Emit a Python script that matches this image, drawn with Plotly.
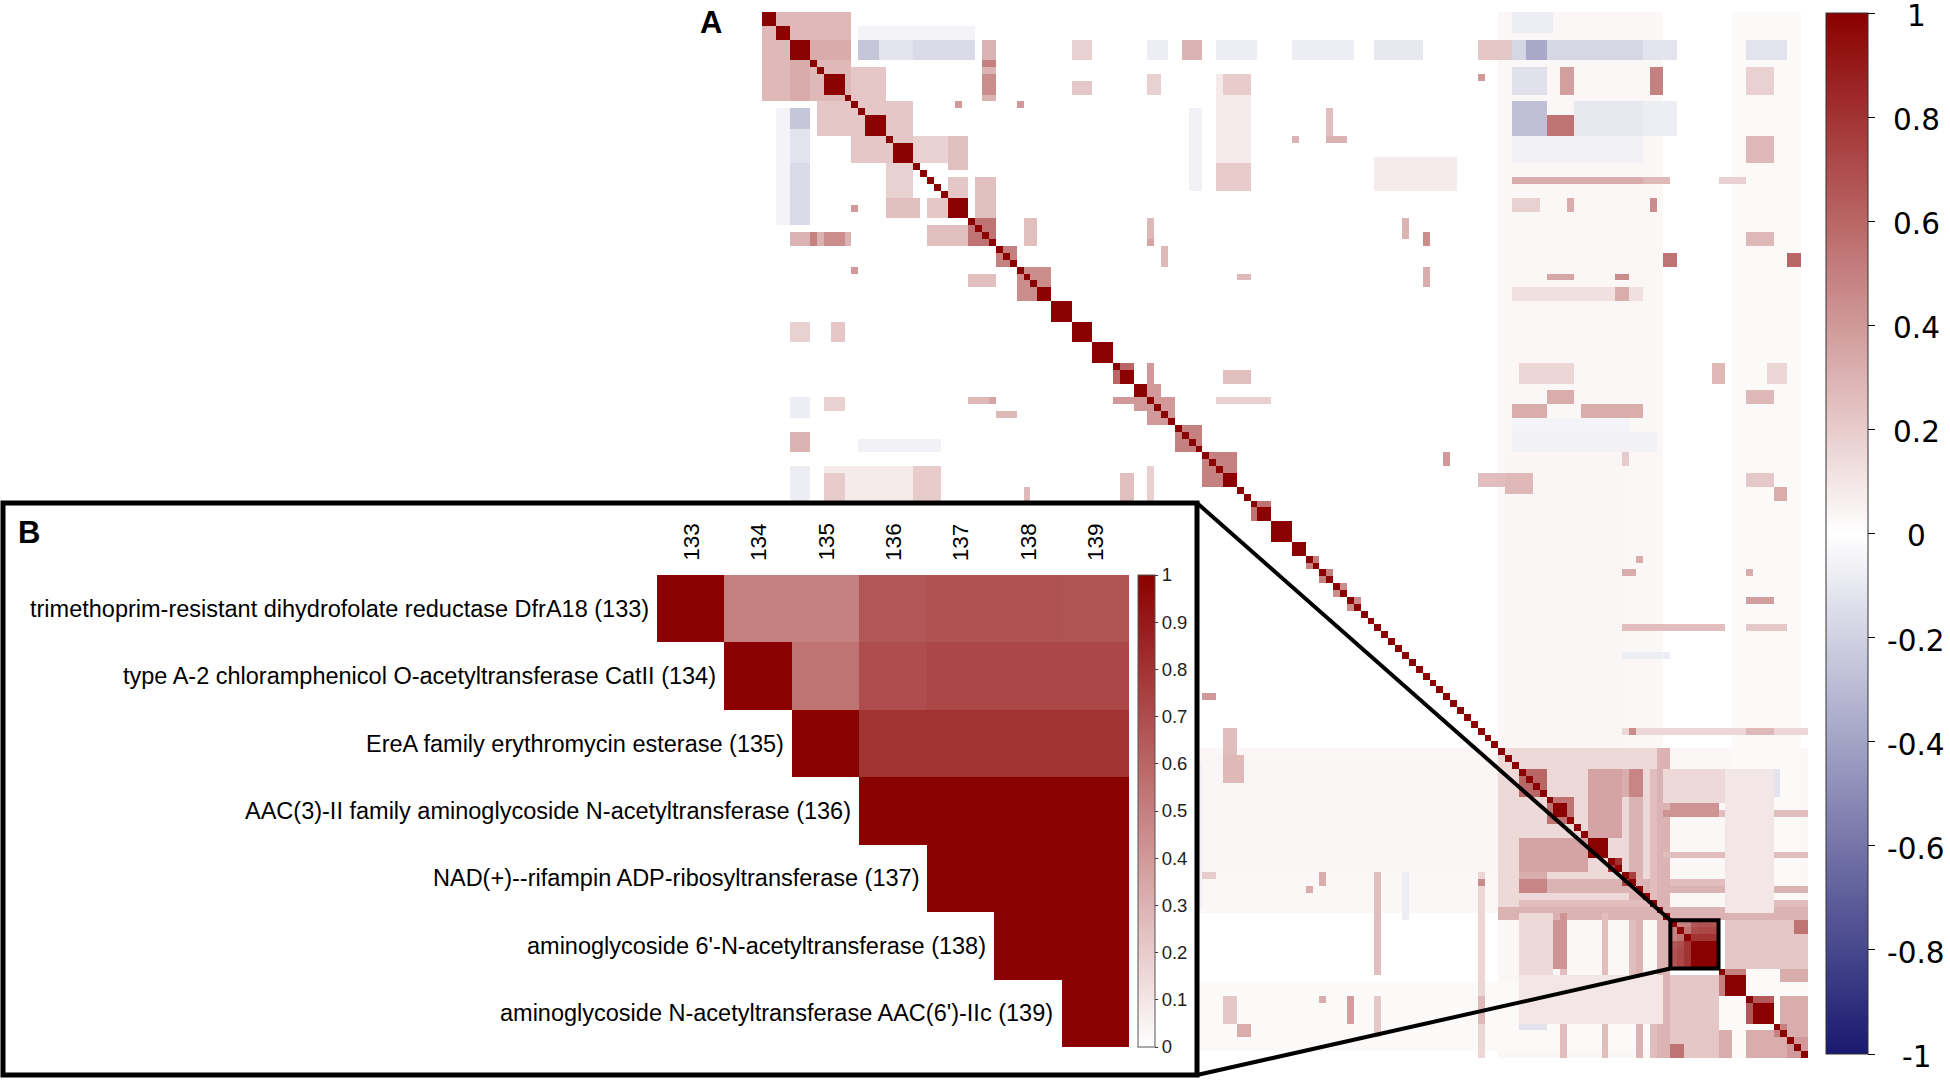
import numpy as np
import plotly.graph_objects as go

# ---------------- data ----------------
n_vars = 152

# groups of genes with identical profiles (r = 1) on the diagonal, [start, end)
identical_blocks = [(0, 2), (2, 4), (4, 7), (9, 12), (15, 18), (19, 22), (27, 30),
                    (40, 42), (42, 45), (45, 48), (48, 51), (52, 54), (54, 56),
                    (67, 69), (72, 74), (74, 77), (77, 79), (115, 117), (120, 123),
                    (140, 143), (144, 147)]

# patches of panel A read off the picture: rows [r0, r1), cols [c0, c1), r
# (applied in order, mirrored across the diagonal)
patches = [
    # faint bands
    (0, 152, 107, 131, 0.03),
    (0, 152, 141, 151, 0.025),
    # top-left cluster
    (0, 13, 0, 13, 0.28),
    (4, 7, 7, 13, 0.33),
    (8, 13, 13, 18, 0.22),
    (13, 22, 13, 22, 0.22),
    (2, 4, 14, 31, -0.05),
    (4, 7, 14, 31, -0.12),
    (4, 7, 14, 17, -0.25),
    (4, 7, 22, 27, -0.18),
    (22, 31, 4, 7, -0.16),
    (32, 34, 4, 13, 0.3),
    (32, 34, 7, 8, 0.5),
    (32, 34, 9, 12, 0.45),
    (18, 22, 22, 27, 0.18),
    (27, 30, 18, 23, 0.25),
    (27, 30, 24, 27, 0.22),
    (31, 34, 24, 30, 0.25),
    (38, 40, 30, 34, 0.25),
    (45, 48, 4, 7, 0.15),
    (45, 48, 10, 12, 0.22),
    (56, 59, 4, 7, -0.08),
    (56, 58, 9, 12, 0.2),
    (61, 64, 4, 7, 0.3),
    (62, 64, 14, 26, -0.06),
    (66, 71, 9, 26, 0.08),
    (56, 57, 30, 34, 0.35),
    (58, 59, 34, 37, 0.3),
    (69, 71, 52, 54, 0.35),
    (52, 54, 67, 71, 0.25),
    (56, 57, 66, 74, 0.18),
    (56, 57, 51, 54, 0.4),
    # rows 0-45 scattered
    (4, 7, 45, 48, 0.18),
    (4, 7, 56, 59, -0.08),
    (4, 7, 61, 64, 0.3),
    (4, 7, 66, 72, -0.08),
    (4, 7, 77, 86, -0.08),
    (4, 7, 89, 96, -0.1),
    (9, 12, 56, 58, 0.18),
    (9, 12, 67, 71, 0.2),
    (9, 10, 104, 105, 0.4),
    (13, 14, 28, 29, 0.4),
    (13, 14, 37, 38, 0.4),
    (18, 19, 77, 78, 0.3),
    (18, 19, 82, 85, 0.3),
    (14, 18, 82, 83, 0.25),
    (22, 26, 66, 71, 0.2),
    (21, 26, 89, 101, 0.08),
    (30, 33, 56, 57, 0.28),
    (30, 33, 93, 94, 0.3),
    (32, 34, 96, 97, 0.45),
    (37, 40, 96, 97, 0.32),
    (34, 37, 58, 59, 0.28),
    (38, 39, 69, 71, 0.28),
    # top rows, right columns
    (0, 3, 109, 115, -0.08),
    (4, 7, 104, 109, 0.22),
    (4, 7, 109, 128, -0.18),
    (4, 7, 111, 114, -0.38),
    (4, 7, 128, 133, -0.12),
    (4, 7, 143, 149, -0.12),
    (8, 12, 109, 114, -0.13),
    (8, 12, 116, 118, 0.38),
    (8, 12, 129, 131, 0.5),
    (8, 12, 143, 147, 0.18),
    (13, 18, 109, 114, -0.28),
    (13, 18, 118, 128, -0.1),
    (13, 18, 128, 133, -0.08),
    (15, 18, 114, 118, 0.55),
    (18, 22, 109, 128, -0.06),
    (18, 22, 143, 147, 0.28),
    (24, 25, 109, 128, 0.32),
    (24, 25, 128, 132, 0.28),
    (24, 25, 139, 143, 0.18),
    (27, 29, 109, 113, 0.18),
    (27, 29, 117, 118, 0.32),
    (27, 29, 129, 130, 0.45),
    (32, 34, 143, 147, 0.28),
    (35, 37, 131, 133, 0.55),
    (35, 37, 149, 151, 0.6),
    (38, 39, 114, 118, 0.35),
    (38, 39, 124, 126, 0.45),
    (40, 42, 109, 128, 0.12),
    (40, 42, 124, 126, 0.32),
    # middle rows, right columns
    (51, 54, 110, 118, 0.16),
    (51, 54, 138, 140, 0.28),
    (51, 54, 146, 149, 0.16),
    (55, 57, 114, 118, 0.32),
    (55, 57, 143, 147, 0.28),
    (57, 59, 109, 114, 0.32),
    (57, 59, 119, 128, 0.32),
    (59, 61, 109, 126, -0.05),
    (61, 64, 109, 130, -0.06),
    (64, 66, 114, 118, 0.28),
    (64, 66, 119, 126, 0.2),
    (64, 66, 99, 100, 0.4),
    (67, 69, 104, 110, 0.26),
    (67, 69, 113, 118, 0.26),
    (67, 69, 143, 147, 0.22),
    (69, 71, 114, 117, 0.26),
    (69, 71, 147, 149, 0.32),
    (76, 78, 109, 122, -0.05),
    (79, 80, 110, 112, 0.32),
    (79, 80, 127, 128, 0.32),
    (81, 82, 125, 127, 0.32),
    (81, 82, 143, 144, 0.32),
    (82, 84, 109, 114, -0.06),
    (82, 84, 114, 118, 0.26),
    (85, 86, 114, 118, 0.26),
    (85, 86, 143, 147, 0.38),
    (89, 90, 110, 113, 0.22),
    (89, 90, 131, 139, 0.4),
    (89, 90, 143, 149, 0.22),
    (93, 94, 114, 132, -0.08),
    (93, 94, 112, 114, 0.45),
    (95, 96, 120, 121, 0.28),
    (97, 99, 110, 114, 0.16),
    (97, 99, 120, 125, 0.26),
    (104, 105, 110, 114, 0.32),
    (104, 105, 119, 122, 0.28),
    (104, 105, 134, 135, 0.5),
    (104, 105, 143, 147, 0.38),
    # bottom-right cluster
    (107, 132, 107, 132, 0.15),
    (110, 120, 120, 125, 0.36),
    (110, 114, 125, 127, 0.32),
    (115, 117, 130, 139, 0.42),
    (126, 128, 110, 131, 0.3),
    (126, 128, 110, 114, 0.48),
    (126, 128, 131, 143, 0.26),
    (129, 131, 110, 131, 0.26),
    (129, 131, 140, 152, 0.26),
    (107, 152, 130, 132, 0.3),
    (131, 152, 116, 117, 0.26),
    (131, 139, 116, 117, 0.42),
    (131, 152, 122, 123, 0.26),
    (131, 152, 127, 128, 0.3),
    (131, 141, 110, 115, 0.15),
    (140, 147, 110, 131, 0.1),
    (143, 147, 132, 139, 0.26),
    (146, 149, 132, 139, 0.26),
    (148, 152, 132, 141, 0.32),
    (148, 152, 143, 149, 0.32),
    (132, 139, 140, 152, 0.22),
    (132, 134, 150, 152, 0.55),
    (147, 148, 110, 114, -0.12),
    (110, 152, 104, 105, 0.16),
    (143, 147, 104, 105, 0.28),
    (126, 127, 104, 105, 0.45),
    (108, 125, 64, 107, 0.035),
    (108, 112, 67, 70, 0.28),
    (125, 140, 89, 90, 0.26),
    # near-diagonal clusters
    (30, 34, 30, 34, 0.55),
    (34, 37, 34, 37, 0.5),
    (37, 42, 37, 42, 0.45),
    (51, 54, 51, 54, 0.6),
    (54, 58, 54, 58, 0.4),
    (56, 60, 56, 60, 0.4),
    (60, 64, 60, 64, 0.5),
    (64, 69, 64, 69, 0.5),
    (71, 74, 71, 74, 0.55),
    (74, 77, 74, 77, 0.5),
    (79, 81, 79, 81, 0.5),
    (81, 83, 81, 83, 0.5),
    (83, 85, 83, 85, 0.45),
    (85, 87, 85, 87, 0.45),
    (110, 114, 110, 114, 0.6),
    (114, 118, 114, 118, 0.55),
    (120, 123, 120, 123, 0.7),
    (123, 125, 123, 125, 0.8),
    (125, 127, 125, 127, 0.75),
    (139, 140, 140, 143, 0.5),
    (143, 147, 143, 147, 0.65),
    (147, 149, 147, 149, 0.5),
    (149, 152, 149, 152, 0.4),
]

# panel B: genes 133-139
inset_ids = ['133', '134', '135', '136', '137', '138', '139']
inset_names = [
    'trimethoprim-resistant dihydrofolate reductase DfrA18',
    'type A-2 chloramphenicol O-acetyltransferase CatII',
    'EreA family erythromycin esterase',
    'AAC(3)-II family aminoglycoside N-acetyltransferase',
    'NAD(+)--rifampin ADP-ribosyltransferase',
    "aminoglycoside 6'-N-acetyltransferase",
    "aminoglycoside N-acetyltransferase AAC(6')-IIc",
]
inset_r = [
    [1, 0.5, 0.5, 0.66, 0.68, 0.68, 0.67],
    [None, 1, 0.55, 0.7, 0.72, 0.72, 0.72],
    [None, None, 1, 0.8, 0.8, 0.8, 0.8],
    [None, None, None, 1, 1, 1, 1],
    [None, None, None, None, 1, 1, 1],
    [None, None, None, None, None, 1, 1],
    [None, None, None, None, None, None, 1],
]
inset_start = 132  # index of gene 133 in panel A

cb_ticks = [1, 0.8, 0.6, 0.4, 0.2, 0, -0.2, -0.4, -0.6, -0.8, -1]
cb_labels = ['1', '0.8', '0.6', '0.4', '0.2', '0', '-0.2', '-0.4', '-0.6', '-0.8', '-1']
inset_ticks = [0, 0.1, 0.2, 0.3, 0.4, 0.5, 0.6, 0.7, 0.8, 0.9, 1]
inset_tick_labels = ['0', '0.1', '0.2', '0.3', '0.4', '0.5', '0.6', '0.7', '0.8', '0.9', '1']

# ---------------- build matrix ----------------
corr = np.zeros((n_vars, n_vars))
for r0, r1, c0, c1, v in patches:
    corr[r0:r1, c0:c1] = v
    corr[c0:c1, r0:r1] = v
for a, b in identical_blocks:
    corr[a:b, a:b] = 1
for i in range(7):
    for j in range(i, 7):
        corr[inset_start + i, inset_start + j] = inset_r[i][j]
        corr[inset_start + j, inset_start + i] = inset_r[i][j]
np.fill_diagonal(corr, 1)

# ---------------- layout helpers (pixels -> paper) ----------------
W, H = 1950, 1081
def px(x):
    return x / W
def py(y):
    return 1 - y / H

main_left, main_top, main_size = 762, 12, 1046
cell = main_size / n_vars

box_left, box_top, box_right, box_bottom = 3, 503, 1197, 1075
in_left, in_top, in_cell = 657, 575, 67.4

red = 'rgb(139,0,0)'
navy = 'rgb(25,25,112)'
font_family = 'Liberation Sans, Arial, sans-serif'

fig = go.Figure()

# panel A
fig.add_trace(go.Heatmap(
    z=corr, x=list(range(n_vars)), y=list(range(n_vars)),
    zmin=-1, zmax=1,
    colorscale=[[0, navy], [0.5, 'white'], [1, red]],
    hoverinfo='skip',
    colorbar=dict(x=px(1826), xanchor='left', xpad=0,
                  y=py(13), yanchor='top', ypad=0,
                  thickness=42, thicknessmode='pixels',
                  len=1041, lenmode='pixels',
                  tickvals=cb_ticks, ticktext=[''] * len(cb_ticks),
                  ticks='outside', ticklen=7, tickwidth=1, tickcolor='black',
                  outlinewidth=1, outlinecolor='#333'),
    xaxis='x', yaxis='y'))

# panel B
fig.add_trace(go.Heatmap(
    z=inset_r, x=list(range(7)), y=list(range(7)),
    zmin=0, zmax=1,
    colorscale=[[0, 'white'], [1, red]],
    hoverinfo='skip',
    colorbar=dict(x=px(1137.6), xanchor='left', xpad=0,
                  y=py(575), yanchor='top', ypad=0,
                  thickness=16.5, thicknessmode='pixels',
                  len=472, lenmode='pixels',
                  tickvals=inset_ticks, ticktext=inset_tick_labels,
                  ticks='outside', ticklen=3, tickwidth=1, tickcolor='#333',
                  tickfont=dict(family=font_family, size=18.5, color='#222'),
                  outlinewidth=1, outlinecolor='#555'),
    xaxis='x2', yaxis='y2'))

x2_range = [-0.5 - (in_left - box_left) / in_cell,
            6.5 + (box_right - (in_left + 7 * in_cell)) / in_cell]
y2_range = [6.5 + (box_bottom - (in_top + 7 * in_cell)) / in_cell,
            -0.5 - (in_top - box_top) / in_cell]

annotations = []
# row and column labels of panel B
for k in range(7):
    annotations.append(dict(
        x=k - 0.5 - 0.09, y=k, xref='x2', yref='y2',
        text=f'{inset_names[k]} ({inset_ids[k]})', showarrow=False,
        xanchor='right', yanchor='middle',
        font=dict(family=font_family, size=23.5, color='black')))
    annotations.append(dict(
        x=k, y=-0.5 - 12 / in_cell, xref='x2', yref='y2',
        text=inset_ids[k], showarrow=False, textangle=-90,
        xanchor='center', yanchor='bottom',
        font=dict(family=font_family, size=22.5, color='black')))

# labels of the main colour bar (centred under each other, as in the original)
for v, lab in zip(cb_ticks, cb_labels):
    annotations.append(dict(
        x=px(1916), y=py(16 + (1 - v) / 2 * 1041), xref='paper', yref='paper',
        text=lab, showarrow=False, xanchor='center', yanchor='middle',
        font=dict(family='DejaVu Sans, sans-serif', size=29.5, color='black')))

annotations.append(dict(x=px(711), y=py(22), xref='paper', yref='paper',
                        text='<b>A</b>', showarrow=False,
                        xanchor='center', yanchor='middle',
                        font=dict(family=font_family, size=31, color='black')))
annotations.append(dict(x=px(29), y=py(532), xref='paper', yref='paper',
                        text='<b>B</b>', showarrow=False,
                        xanchor='center', yanchor='middle',
                        font=dict(family=font_family, size=31, color='black')))

# zoom box and connecting lines
sb_left = main_left + inset_start * cell
sb_right = main_left + (inset_start + 7) * cell
sb_top = main_top + inset_start * cell
sb_bottom = main_top + (inset_start + 7) * cell
shapes = [
    dict(type='rect', xref='paper', yref='paper',
         x0=px(box_left), x1=px(box_right), y0=py(box_top), y1=py(box_bottom),
         line=dict(color='black', width=5), layer='above'),
    dict(type='rect', xref='paper', yref='paper',
         x0=px(sb_left), x1=px(sb_right), y0=py(sb_top), y1=py(sb_bottom),
         line=dict(color='black', width=4), layer='above'),
    dict(type='line', xref='paper', yref='paper',
         x0=px(box_right), y0=py(box_top), x1=px(sb_left), y1=py(sb_top),
         line=dict(color='black', width=4), layer='above'),
    dict(type='line', xref='paper', yref='paper',
         x0=px(box_right), y0=py(box_bottom), x1=px(sb_left), y1=py(sb_bottom),
         line=dict(color='black', width=4), layer='above'),
]

fig.update_layout(
    width=W, height=H,
    margin=dict(l=0, r=0, t=0, b=0),
    paper_bgcolor='white', plot_bgcolor='white',
    xaxis=dict(domain=[px(main_left), px(main_left + main_size)],
               range=[-0.5, n_vars - 0.5], visible=False, anchor='y'),
    yaxis=dict(domain=[py(main_top + main_size), py(main_top)],
               range=[n_vars - 0.5, -0.5], visible=False, anchor='x'),
    xaxis2=dict(domain=[px(box_left), px(box_right)], range=x2_range,
                visible=False, anchor='y2'),
    yaxis2=dict(domain=[py(box_bottom), py(box_top)], range=y2_range,
                visible=False, anchor='x2'),
    annotations=annotations,
    shapes=shapes,
    showlegend=False,
)

# the page body has a default 8px margin; drop it so the figure fills the window
fig.write_html('out.html', config={'displayModeBar': False},
               post_script="document.body.style.margin = '0';")
